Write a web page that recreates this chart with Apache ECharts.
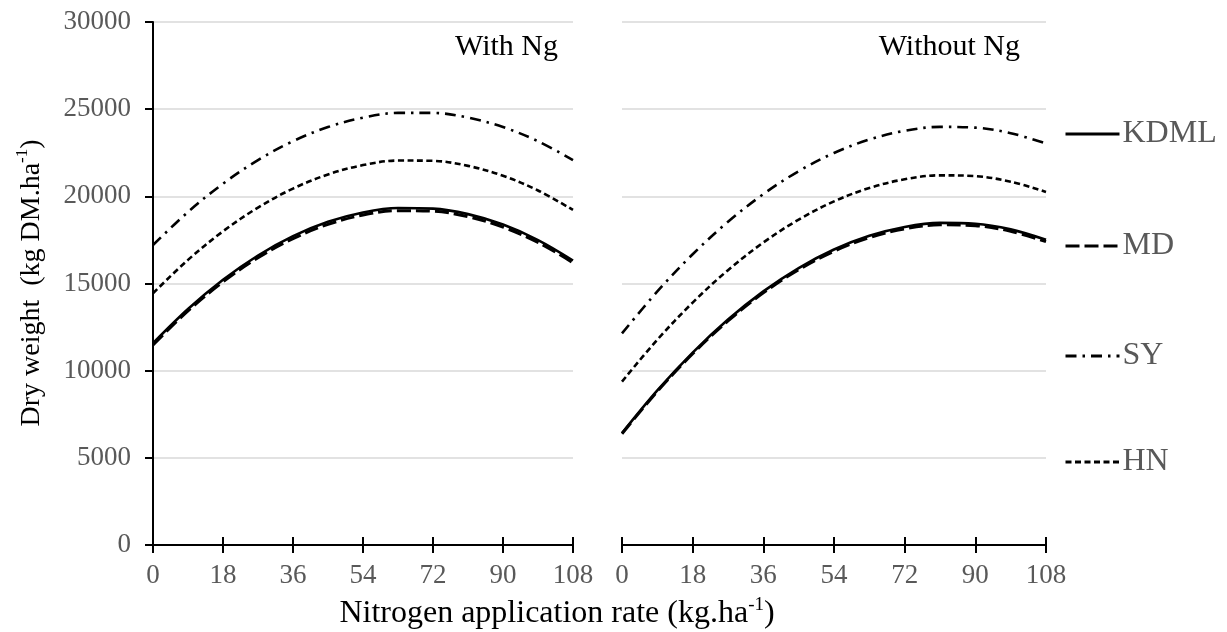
<!DOCTYPE html>
<html>
<head>
<meta charset="utf-8">
<script src="https://cdn.jsdelivr.net/npm/echarts@6/dist/echarts.min.js"></script>
<style>
html,body{margin:0;padding:0;background:#fff;}
#chart{width:1227px;height:632px;}
</style>
</head>
<body>
<div id="chart"></div>
<script>
// Nitrogen rate (kg/ha) at which values were read
const nRates = [0, 9, 18, 27, 36, 45, 54, 63, 72, 81, 90, 99, 108];
const xTicks = [0, 18, 36, 54, 72, 90, 108];
const varieties = ['KDML', 'MD', 'SY', 'HN'];
const panelTitles = ['With Ng', 'Without Ng'];

// With Ng (left panel), dry weight kg DM/ha
const kdmlWith = [11571, 13534, 15212, 16606, 17714, 18537, 19075, 19328, 19297, 18980, 18379, 17492, 16320];
const mdWith   = [11479, 13428, 15093, 16476, 17576, 18393, 18928, 19179, 19148, 18833, 18236, 17356, 16193];
const syWith   = [17207, 19102, 20726, 22079, 23162, 23974, 24515, 24786, 24786, 24515, 23974, 23162, 22079];
const hnWith   = [14440, 16354, 17993, 19357, 20444, 21256, 21792, 22053, 22037, 21746, 21180, 20337, 19219];

// Without Ng (right panel)
const kdmlWithout = [6417, 8866, 11037, 12931, 14548, 15888, 16950, 17735, 18244, 18475, 18428, 18105, 17504];
const mdWithout   = [6378, 8812, 10970, 12853, 14461, 15793, 16849, 17630, 18135, 18365, 18319, 17997, 17400];
const syWithout   = [12139, 14544, 16678, 18538, 20127, 21443, 22487, 23259, 23758, 23985, 23939, 23622, 23032];
const hnWithout   = [9373, 11776, 13906, 15765, 17352, 18666, 19709, 20480, 20978, 21205, 21160, 20842, 20253];

const FONT = '"Liberation Serif","Times New Roman",serif';
const styles = {
  KDML: {type: 'solid', width: 2.6, z: 4},
  MD:   {type: [14, 5], width: 3, z: 3},
  SY:   {type: [11, 6, 2.5, 6], width: 2.6, z: 2},
  HN:   {type: [6, 3.5], width: 2.6, z: 2}
};
function pairs(ys) { return nRates.map((x, i) => [x, ys[i]]); }
function mkSeries(name, ys, axisIdx) {
  const s = styles[name];
  return {
    name: name, type: 'line', xAxisIndex: axisIdx, yAxisIndex: axisIdx,
    data: pairs(ys), smooth: 0.35, symbol: 'none', showSymbol: false, z: s.z,
    lineStyle: {color: '#000', width: s.width, type: s.type, cap: 'butt'},
    itemStyle: {color: '#000'},
    emphasis: {disabled: true}, silent: true
  };
}
const labelStyle = {color: '#595959', fontSize: 27, fontFamily: FONT, formatter: v => String(v)};
function xAx(grid, inside) {
  return {
    gridIndex: grid, type: 'value', min: 0, max: 108, interval: 18, position: 'bottom',
    axisLine: {show: !inside, lineStyle: {color: '#000', width: 2}},
    axisTick: {show: true, inside: inside, length: 8, lineStyle: {color: '#000', width: 2}},
    axisLabel: Object.assign({show: !inside, margin: 17}, labelStyle),
    splitLine: {show: false}
  };
}
const chart = echarts.init(document.getElementById('chart'));
const option = {
  animation: false,
  backgroundColor: '#fff',
  grid: [
    {left: 153, top: 22, width: 420, height: 523},
    {left: 622, top: 22, width: 424, height: 523}
  ],
  xAxis: [xAx(0, false), xAx(0, true), xAx(1, false), xAx(1, true)],
  yAxis: [
    {gridIndex: 0, type: 'value', min: 0, max: 30000, interval: 5000,
     axisLine: {show: true, onZero: false, lineStyle: {color: '#000', width: 2}},
     axisTick: {show: true, length: 8, lineStyle: {color: '#000', width: 2}},
     axisLabel: Object.assign({margin: 22}, labelStyle),
     splitLine: {show: true, lineStyle: {color: '#d9d9d9', width: 1.5}}},
    {gridIndex: 0, type: 'value', min: 0, max: 30000, interval: 5000,
     axisLine: {show: false}, axisTick: {show: true, inside: true, length: 8, lineStyle: {color: '#000', width: 2}},
     axisLabel: {show: false}, splitLine: {show: false}},
    {gridIndex: 1, type: 'value', min: 0, max: 30000, interval: 5000,
     axisLine: {show: false}, axisTick: {show: false}, axisLabel: {show: false},
     splitLine: {show: true, lineStyle: {color: '#d9d9d9', width: 1.5}}},
    {gridIndex: 1, type: 'value', min: 0, max: 30000, show: false}
  ],
  legend: varieties.map((v, i) => ({
    data: [v], orient: 'vertical', left: 1064, top: [118, 230, 340, 446][i],
    padding: 0, itemWidth: 54, itemHeight: 14, itemGap: 4, selectedMode: false,
    itemStyle: {opacity: 0},
    lineStyle: {width: 3},
    textStyle: {color: '#595959', fontSize: 32, fontFamily: FONT, padding: [0, 0, 0, -2]}
  })),
  series: [
    mkSeries('SY', syWith, 0), mkSeries('HN', hnWith, 0), mkSeries('MD', mdWith, 0), mkSeries('KDML', kdmlWith, 0),
    mkSeries('SY', syWithout, 2), mkSeries('HN', hnWithout, 2), mkSeries('MD', mdWithout, 2), mkSeries('KDML', kdmlWithout, 2)
  ],
  graphic: [
    {type: 'text', x: 558, y: 47, style: {text: panelTitles[0], align: 'right', verticalAlign: 'middle',
      font: '30px ' + FONT, fill: '#000'}},
    {type: 'text', x: 1020, y: 47, style: {text: panelTitles[1], align: 'right', verticalAlign: 'middle',
      font: '30px ' + FONT, fill: '#000'}},
    {type: 'text', x: 30, y: 283, rotation: Math.PI / 2,
      style: {text: '{n|Dry weight  (kg DM.ha}{s|-1}{n|)}', align: 'center', verticalAlign: 'middle',
        rich: {n: {fontSize: 28, fontFamily: FONT, color: '#000', lineHeight: 32, verticalAlign: 'bottom'},
               s: {fontSize: 17, fontFamily: FONT, color: '#000', lineHeight: 32, verticalAlign: 'top'}}}},
    {type: 'text', x: 557, y: 613,
      style: {text: '{n|Nitrogen application rate (kg.ha}{s|-1}{n|)}', align: 'center', verticalAlign: 'middle',
        rich: {n: {fontSize: 32, fontFamily: FONT, color: '#000', lineHeight: 34, verticalAlign: 'bottom'},
               s: {fontSize: 19, fontFamily: FONT, color: '#000', lineHeight: 34, verticalAlign: 'top'}}}}
  ]
};
chart.setOption(option);
</script>
</body>
</html>
